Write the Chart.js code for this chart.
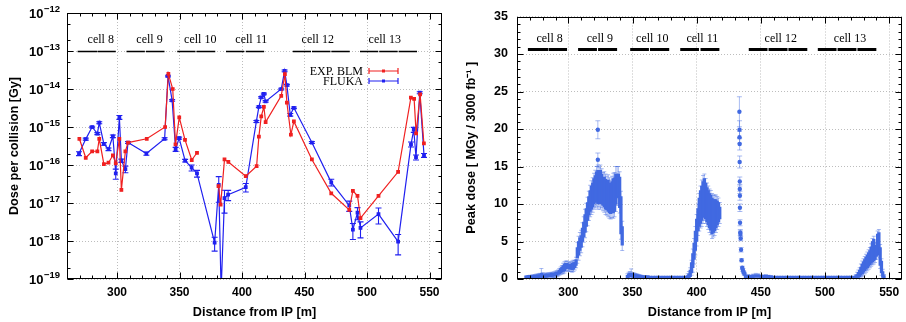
<!DOCTYPE html>
<html>
<head>
<meta charset="utf-8">
<script src="https://cdn.jsdelivr.net/npm/chart.js@4.4.0/dist/chart.umd.min.js"></script>
<style>
  html, body { margin: 0; padding: 0; background: #fff; }
  #wrap { position: relative; width: 906px; height: 322px; }
  #left { position: absolute; left: 0; top: 0; }
  #right { position: absolute; left: 450px; top: 0; }
</style>
</head>
<body>
<div id="wrap">
  <canvas id="left" width="450" height="322"></canvas>
  <canvas id="right" width="456" height="322"></canvas>
</div>
<script>
// ---- data ----

// left panel: dose per collision, EXP. BLM (red) and FLUKA (blue)
const blmX = [269.9, 275.0, 280.1, 284.3, 285.8, 289.5, 293.2, 296.7, 299.0, 301.9,
  303.5, 306.7, 308.8, 323.8, 338.5, 341.1, 344.6, 346.8, 349.8, 354.4,
  359.8, 364.0, 372.0, 381.2, 382.9, 386.0, 389.1, 403.0, 411.7, 413.5,
  415.4, 417.5, 418.9, 431.4, 434.3, 435.9, 439.1, 441.5, 455.9, 471.4,
  485.8, 488.7, 492.4, 494.8, 509.2, 524.9, 535.1, 537.7, 539.3, 542.5, 545.5]
const blmY = [4.9e-16, 1.55e-16, 2.3e-16, 2.3e-16, 4.9e-16, 1.05e-16, 1.15e-16, 1.8e-16, 1.1e-16, 4.9e-16,
  2.2e-17, 2.3e-16, 3.9e-16, 4.9e-16, 1.0e-15, 2.5e-14, 1.0e-14, 3.5e-16, 1.8e-15, 4.6e-16,
  1.35e-16, 2.1e-16, null, 2.8e-17, 9.0e-18, 1.4e-16, 1.2e-16, 5.1e-17, 9.3e-17, 5.6e-16,
  1.9e-15, 3.4e-15, 1.35e-15, 6.6e-15, 2.45e-14, 4.4e-15, 6.3e-16, 1.4e-15, 1.4e-16, 1.8e-17,
  6.6e-18, 2.1e-17, 1.55e-17, 4.0e-18, 1.55e-17, 6.6e-17, 5.9e-15, 5.5e-15, 6.8e-16, 7.2e-15, 3.7e-16]

const flukaX = [269.6, 275.0, 280.1, 284.3, 285.8, 289.5, 293.2, 296.7, 299.0, 301.9,
  303.5, 306.7, 308.8, 323.5, 338.1, 340.8, 344.1, 346.9, 349.7, 354.5,
  359.7, 364.0, 378.1, 381.4, 383.3, 386.0, 388.9, 403.0, 411.5, 413.5,
  415.4, 417.5, 418.9, 431.4, 434.1, 435.9, 438.6, 441.5, 455.9, 471.4,
  485.8, 488.7, 492.4, 494.8, 509.2, 524.9, 535.2, 537.4, 539.2, 542.2, 545.6]
const flukaY = [2.0e-16, 4.8e-16, 1.0e-15, 6.7e-16, 1.3e-15, 3.6e-16, 2.6e-16, 5.7e-16, 6.0e-17, 1.8e-15,
  1.3e-16, 7.8e-17, 3.9e-16, 2.0e-16, 4.9e-16, 2.2e-14, 5.0e-15, 2.6e-16, 5.1e-16, 1.3e-16,
  8.5e-17, 6.0e-17, 9.0e-19, 3.0e-17, 5.0e-20, 1.35e-17, 1.65e-17, 2.6e-17, 1.4e-15, 3.4e-15,
  6.0e-15, 7.4e-15, 4.7e-15, 1.0e-14, 3.0e-14, 1.26e-14, 2.1e-15, 3.2e-15, 3.9e-16, 3.5e-17,
  8.6e-18, 2.0e-18, 5.6e-18, 2.2e-18, 5.1e-18, 9.6e-19, 3.5e-16, 8.5e-16, 1.6e-16, 8.0e-15, 1.8e-16]
// relative error of each FLUKA point
const flukaRelErr = [0.12, 0.06, 0.05, 0.06, 0.06, 0.08, 0.08, 0.08, 0.3, 0.12,
  0.1, 0.2, 0.06, 0.1, 0.06, 0.05, 0.05, 0.12, 0.06, 0.08,
  0.18, 0.2, 0.4, 0.65, 0, 0.6, 0.3, 0.25, 0.06, 0.05,
  0.05, 0.05, 0.05, 0.05, 0.05, 0.05, 0.08, 0.05, 0.06, 0.2,
  0.3, 0.45, 0.35, 0.45, 0.45, 0.55, 0.15, 0.15, 0.15, 0.06, 0.12]

// right panel: peak dose band (low / high edge of the point cloud) and its error
const peakX = [
  267, 268, 269, 270, 271, 272, 273, 274, 275, 276,
  277, 278, 279, 280, 281, 282, 283, 284, 285, 286,
  287, 288, 289, 290, 291, 292, 293, 294, 295, 296,
  297, 298, 299, 300, 301, 302, 303, 304, 305, 306,
  307, 308, 309, 310, 311, 312, 313, 314, 315, 316,
  317, 318, 319, 320, 321, 322, 323, 324, 325, 326,
  327, 328, 329, 330, 331, 332, 333, 334, 335, 336,
  337, 338, 339, 340, 341, 342,
  346, 347, 348, 349, 350, 351, 352, 353, 354, 355, 356, 357,
  358, 360, 362, 364, 366, 368, 370, 372, 374, 376, 378, 380, 382, 384, 386, 388, 390, 392,
  393, 394, 395, 396, 397, 398, 399, 400, 401, 402,
  403, 404, 405, 406, 407, 408, 409, 410, 411, 412,
  413, 414, 415, 416, 417, 418,
  438, 440, 442, 444, 446, 448, 450, 452, 454, 456, 458,
  460, 462, 464, 466, 468, 470, 472, 474, 476, 478, 480, 482, 484, 486, 488, 490,
  492, 494, 496, 498, 500, 502, 504, 506, 508, 510, 512, 514, 516, 518, 520, 522,
  524, 525, 526, 527, 528, 529, 530, 531, 532, 533,
  534, 535, 536, 537, 538, 539, 540, 541, 542, 543,
  544, 545, 546]
const peakLo = [
  0.0, 0.0, 0.05, 0.05, 0.05, 0.1, 0.1, 0.1, 0.1, 0.15,
  0.15, 0.2, 0.25, 0.2, 0.2, 0.2, 0.25, 0.25, 0.3, 0.3,
  0.35, 0.35, 0.4, 0.45, 0.5, 0.6, 0.7, 0.8, 0.9, 1.0,
  1.1, 1.3, 1.4, 1.4, 1.3, 1.3, 1.2, 1.3, 1.5, 1.8,
  2.8, 3.2, 3.8, 4.2, 5.0, 5.6, 6.2, 7.0, 7.8, 8.5,
  9.0, 9.3, 9.6, 10.0, 10.2, 10.4, 10.0, 10.3, 10.0, 10.2,
  9.8, 9.6, 9.3, 9.2, 9.0, 8.8, 8.7, 8.9, 8.8, 9.0,
  10.0, 10.8, 11.0, 9.5, 6.0, 4.5,
  0.1, 0.2, 0.3, 0.3, 0.25, 0.2, 0.2, 0.15, 0.15, 0.1, 0.1, 0.05,
  0.05, 0.05, 0.05, 0.0, 0.0, 0.0, 0.0, 0.0, 0.0, 0.0, 0.0, 0.0, 0.0, 0.0, 0.0, 0.0, 0.0, 0.0,
  0.05, 0.1, 0.3, 0.8, 1.5, 2.6, 3.8, 5.0, 6.4, 7.0,
  7.4, 7.8, 8.2, 8.4, 8.0, 7.6, 7.2, 6.8, 6.5, 6.0,
  6.2, 6.4, 6.8, 7.2, 7.6, 8.0,
  0.1, 0.1, 0.1, 0.15, 0.2, 0.2, 0.1, 0.1, 0.1, 0.1, 0.05,
  0.0, 0.0, 0.0, 0.0, 0.0, 0.0, 0.0, 0.0, 0.0, 0.0, 0.0, 0.0, 0.0, 0.0, 0.0, 0.0,
  0.0, 0.0, 0.0, 0.0, 0.0, 0.0, 0.0, 0.0, 0.0, 0.0, 0.0, 0.0, 0.0, 0.0, 0.0, 0.0,
  0.05, 0.1, 0.2, 0.3, 0.5, 0.7, 0.9, 1.1, 1.3, 1.5,
  1.7, 1.9, 2.1, 2.3, 2.4, 2.6, 3.0, 3.6, 3.2, 1.8,
  0.8, 0.2, 0.05]
const peakHi = [
  0.25, 0.3, 0.3, 0.35, 0.3, 0.4, 0.4, 0.45, 0.5, 0.5,
  0.55, 0.6, 0.75, 0.65, 0.55, 0.55, 0.6, 0.6, 0.6, 0.65,
  0.7, 0.7, 0.75, 0.85, 0.9, 1.0, 1.2, 1.4, 1.6, 1.8,
  2.0, 2.1, 2.1, 2.0, 1.9, 2.0, 2.1, 2.2, 2.2, 2.6,
  4.2, 5.0, 5.5, 5.8, 6.8, 7.6, 8.6, 9.4, 10.2, 11.0,
  11.8, 12.4, 12.8, 13.4, 13.8, 14.3, 14.5, 14.2, 14.5, 14.0,
  13.5, 13.6, 13.3, 13.0, 13.2, 12.8, 12.5, 13.0, 13.4, 13.5,
  14.0, 14.0, 14.0, 13.6, 11.0, 7.0,
  0.5, 0.7, 0.8, 0.75, 0.7, 0.65, 0.6, 0.55, 0.5, 0.45, 0.4, 0.35,
  0.3, 0.3, 0.25, 0.2, 0.15, 0.15, 0.15, 0.15, 0.15, 0.15, 0.15, 0.15, 0.15, 0.15, 0.15, 0.15, 0.15, 0.2,
  0.4, 0.7, 1.2, 2.2, 3.4, 4.8, 6.4, 8.0, 9.4, 10.8,
  11.8, 12.4, 13.0, 13.4, 12.8, 12.2, 11.8, 11.4, 11.2, 10.8,
  10.6, 10.6, 10.6, 10.4, 10.2, 9.6,
  0.5, 0.45, 0.4, 0.5, 0.6, 0.55, 0.4, 0.4, 0.45, 0.35, 0.25,
  0.15, 0.15, 0.15, 0.15, 0.15, 0.15, 0.15, 0.15, 0.15, 0.15, 0.15, 0.15, 0.15, 0.15, 0.15, 0.15,
  0.15, 0.15, 0.2, 0.25, 0.15, 0.15, 0.15, 0.15, 0.15, 0.15, 0.25, 0.15, 0.15, 0.25, 0.15, 0.2,
  0.4, 0.6, 0.9, 1.2, 1.6, 2.0, 2.3, 2.6, 2.9, 3.2,
  3.5, 3.8, 4.3, 5.0, 5.3, 4.5, 4.4, 6.0, 6.2, 4.2,
  2.4, 1.0, 0.4]
const peakErr = [
  0.15, 0.15, 0.15, 0.15, 0.15, 0.15, 0.15, 0.15, 0.15, 0.15,
  0.15, 0.15, 0.65, 0.2, 0.2, 0.2, 0.2, 0.2, 0.2, 0.2,
  0.2, 0.2, 0.2, 0.2, 0.2, 0.2, 0.2, 0.2, 0.2, 0.3,
  0.3, 0.3, 0.3, 0.3, 0.3, 0.3, 0.3, 0.3, 0.3, 0.3,
  0.7, 0.7, 0.7, 0.7, 0.7, 0.7, 0.7, 0.7, 0.7, 0.7,
  0.7, 0.7, 0.7, 0.7, 0.7, 0.7, 0.7, 0.7, 0.7, 0.7,
  0.7, 0.7, 0.7, 0.7, 0.7, 0.7, 0.7, 0.7, 0.7, 0.7,
  1.0, 1.0, 1.0, 0.7, 0.7, 0.7,
  0.2, 0.2, 0.2, 0.6, 0.15, 0.15, 0.15, 0.15, 0.15, 0.15, 0.15, 0.15,
  0.1, 0.1, 0.1, 0.1, 0.1, 0.1, 0.1, 0.1, 0.1, 0.1, 0.1, 0.1, 0.1, 0.1, 0.1, 0.1, 0.1, 0.1,
  0.3, 0.3, 0.3, 0.3, 0.6, 0.6, 0.6, 0.6, 0.6, 0.6,
  0.6, 0.8, 0.8, 0.6, 0.6, 0.6, 0.6, 0.6, 0.6, 0.6,
  0.6, 0.6, 0.6, 0.6, 0.6, 0.6,
  0.15, 0.15, 0.15, 0.15, 0.15, 0.15, 0.15, 0.15, 0.15, 0.15, 0.15,
  0.1, 0.1, 0.1, 0.1, 0.1, 0.1, 0.1, 0.1, 0.1, 0.1, 0.1, 0.1, 0.1, 0.1, 0.1, 0.1,
  0.1, 0.1, 0.1, 0.1, 0.1, 0.1, 0.1, 0.1, 0.1, 0.1, 0.1, 0.1, 0.1, 0.1, 0.1, 0.1,
  0.2, 0.3, 0.3, 0.3, 0.4, 0.4, 0.4, 0.4, 0.4, 0.4,
  0.4, 0.4, 0.4, 0.4, 0.4, 0.4, 0.4, 0.4, 0.4, 0.4,
  0.3, 0.3, 0.2]

// isolated points standing out of the band (spikes at 323 m and 433 m)
const spikeX = [323.0, 323.0, 433.3, 433.4, 433.4, 433.5, 433.5, 433.6, 433.6, 433.7, 433.7,
  433.8, 434.0, 434.1, 434.3, 434.6, 435.0, 435.5, 436.0, 436.6, 437.2]
const spikeY = [19.9, 15.9, 22.3, 19.9, 18.9, 18.0, 15.6, 13.0, 12.0, 11.1, 9.5,
  7.5, 6.2, 6.0, 5.4, 3.9, 2.5, 1.5, 1.2, 0.9, 0.7]
const spikeErr = [1.2, 0.9, 2.0, 1.2, 0.8, 0.8, 0.8, 0.6, 0.6, 0.6, 0.5,
  0.4, 0.4, 0.4, 0.3, 0.3, 0.2, 0.2, 0.2, 0.2, 0.2]

// cell markers (shared by both panels)
const cellNames = ['cell 8', 'cell 9', 'cell 10', 'cell 11', 'cell 12', 'cell 13']
const cellSegStart = [268.5, 284.6, 307.6, 323.2, 348.2, 363.6, 387.2, 403.0, 440.6, 456.0, 471.5, 494.4, 509.8, 525.3]
const cellSegEnd = [284.2, 299.0, 322.3, 338.0, 362.8, 378.6, 401.8, 417.7, 455.2, 470.8, 486.2, 509.0, 524.5, 540.0]
const leftCellLabelX = [287, 326, 366.6, 407.4, 460.6, 514.2]
const rightCellLabelX = [285.4, 324.6, 365.4, 404.4, 465.5, 519.5]

// axes
const distTicks = [300, 350, 400, 450, 500, 550]
const doseDecades = [1e-19, 1e-18, 1e-17, 1e-16, 1e-15, 1e-14, 1e-13, 1e-12]
const doseExponents = ['\u221219', '\u221218', '\u221217', '\u221216', '\u221215', '\u221214', '\u221213', '\u221212']
const peakTicks = [0, 5, 10, 15, 20, 25, 30, 35]

// ---- style ----
const RED = '#f02020'
const BLUE = '#2020f0'
const ROYAL = '#4169e1'
const ROYAL_ERR = 'rgba(65,105,225,0.45)'
const SANS = '"Liberation Sans", Arial, sans-serif'
const SERIF = '"Liberation Serif", "Times New Roman", serif'

Chart.defaults.font.family = SANS
Chart.defaults.color = '#000'

// minor tick helpers (decoration only)
const distMinor = []
for (let v = 270; v < 560; v += 10) if (v % 50 !== 0) distMinor.push(v)
const doseMinor = []
doseDecades.slice(0, -1).forEach(d => { doseMinor.push(2 * d, 5 * d) })
const peakMinor = []
for (let v = 1; v < 35; v++) if (v % 5 !== 0) peakMinor.push(v)

// box around the plot with inward ticks on all sides
const framePlugin = {
  id: 'frame',
  afterDraw(chart, args, o) {
    const { ctx, chartArea: a } = chart
    const xs = chart.scales.x, ys = chart.scales.y
    const L = Math.round(a.left) + 0.5, R = Math.round(a.right) - 0.5
    const T = Math.round(a.top) + 0.5, B = Math.round(a.bottom) - 0.5
    ctx.save()
    ctx.strokeStyle = '#000'
    ctx.lineWidth = 1
    ctx.strokeRect(L, T, R - L, B - T)
    ctx.beginPath()
    const xMark = (list, len) => list.forEach(v => {
      const p = Math.round(xs.getPixelForValue(v)) + 0.5
      ctx.moveTo(p, B); ctx.lineTo(p, B - len)
      ctx.moveTo(p, T); ctx.lineTo(p, T + len)
    })
    const yMark = (list, len) => list.forEach(v => {
      const p = Math.round(ys.getPixelForValue(v)) + 0.5
      ctx.moveTo(L, p); ctx.lineTo(L + len, p)
      ctx.moveTo(R, p); ctx.lineTo(R - len, p)
    })
    xMark(o.xMajor, 6); xMark(o.xMinor, 3)
    yMark(o.yMajor, 6); yMark(o.yMinor, 3)
    ctx.stroke()
    ctx.restore()
  }
}

// vertical error bars from dataset.errLo / dataset.errHi
const errorBarPlugin = {
  id: 'errorBars',
  beforeDatasetsDraw(chart) {
    const { ctx, chartArea: a } = chart
    const xs = chart.scales.x, ys = chart.scales.y
    ctx.save()
    ctx.beginPath()
    ctx.rect(a.left, a.top, a.right - a.left, a.bottom - a.top)
    ctx.clip()
    chart.data.datasets.forEach(ds => {
      if (!ds.errLo) return
      ctx.strokeStyle = ds.errColor
      ctx.lineWidth = ds.errWidth || 1
      ctx.beginPath()
      ds.data.forEach((d, i) => {
        const lo = ds.errLo[i], hi = ds.errHi[i]
        if (lo == null || hi == null || hi <= lo) return
        const px = xs.getPixelForValue(d.x)
        const p1 = ys.getPixelForValue(lo), p2 = ys.getPixelForValue(hi)
        ctx.moveTo(px, p1); ctx.lineTo(px, p2)
        ctx.moveTo(px - ds.cap, p1); ctx.lineTo(px + ds.cap, p1)
        ctx.moveTo(px - ds.cap, p2); ctx.lineTo(px + ds.cap, p2)
      })
      ctx.stroke()
    })
    ctx.restore()
  }
}

// black cell bars with serif labels
const cellPlugin = {
  id: 'cells',
  afterDatasetsDraw(chart, args, o) {
    const { ctx } = chart
    const xs = chart.scales.x, ys = chart.scales.y
    const py = Math.round(ys.getPixelForValue(o.barValue)) + 0.5
    ctx.save()
    ctx.strokeStyle = '#000'
    ctx.lineWidth = o.lineWidth
    ctx.beginPath()
    cellSegStart.forEach((s, i) => {
      ctx.moveTo(xs.getPixelForValue(s), py)
      ctx.lineTo(xs.getPixelForValue(cellSegEnd[i]), py)
    })
    ctx.stroke()
    ctx.fillStyle = '#000'
    ctx.font = `12px ${SERIF}`
    ctx.textAlign = 'center'
    ctx.textBaseline = 'middle'
    const ly = ys.getPixelForValue(o.labelValue)
    cellNames.forEach((n, i) => ctx.fillText(n, xs.getPixelForValue(o.labelX[i]), ly))
    ctx.restore()
  }
}

// 10^n labels for the log axis
const decadeLabelPlugin = {
  id: 'decadeLabels',
  afterDraw(chart) {
    const { ctx, chartArea: a } = chart
    const ys = chart.scales.y
    ctx.save()
    ctx.fillStyle = '#000'
    ctx.textAlign = 'right'
    ctx.textBaseline = 'alphabetic'
    const right = a.left - 7
    doseDecades.forEach((d, i) => {
      const py = ys.getPixelForValue(d)
      ctx.font = `bold 9.5px ${SANS}`
      const ew = ctx.measureText(doseExponents[i]).width
      ctx.fillText(doseExponents[i], right, py - 1.5)
      ctx.font = `bold 13px ${SANS}`
      ctx.fillText('10', right - ew - 0.5, py + 4.5)
    })
    ctx.restore()
  }
}

// key in the upper right of the left panel
const keyPlugin = {
  id: 'key',
  afterDatasetsDraw(chart) {
    const { ctx } = chart
    const rows = [['EXP. BLM', RED, 71], ['FLUKA', BLUE, 81]]
    ctx.save()
    ctx.font = `12px ${SERIF}`
    ctx.textAlign = 'right'
    ctx.textBaseline = 'middle'
    rows.forEach(([t, c, y]) => {
      ctx.fillStyle = '#000'
      ctx.fillText(t, 363, y + 0.5)
      ctx.strokeStyle = c
      ctx.fillStyle = c
      ctx.lineWidth = 1.2
      ctx.beginPath()
      ctx.moveTo(369, y); ctx.lineTo(398, y)
      ctx.moveTo(369, y - 3); ctx.lineTo(369, y + 3)
      ctx.moveTo(398, y - 3); ctx.lineTo(398, y + 3)
      ctx.stroke()
      ctx.fillRect(382, y - 1.5, 3, 3)
    })
    ctx.restore()
  }
}

const axisFont = { family: SANS, size: 12, weight: 'bold' }
const titleFont = { family: SANS, size: 12.7, weight: 'bold' }
const gridStyle = { color: '#bdbdbd', drawTicks: false, lineWidth: 1 }
const dotted = { display: false, dash: [1, 2] }

// ---- left panel ----
new Chart(document.getElementById('left'), {
  type: 'line',
  data: {
    datasets: [
      {
        label: 'EXP. BLM',
        data: blmX.map((x, i) => ({ x, y: blmY[i] })),
        borderColor: RED,
        backgroundColor: RED,
        borderWidth: 1.2,
        pointStyle: 'rect',
        pointRadius: 1.8,
        spanGaps: false,
      },
      {
        label: 'FLUKA',
        data: flukaX.map((x, i) => ({ x, y: flukaY[i] })),
        borderColor: BLUE,
        backgroundColor: BLUE,
        borderWidth: 1.2,
        pointStyle: 'rect',
        pointRadius: 1.8,
        errLo: flukaY.map((v, i) => v * (1 - flukaRelErr[i])),
        errHi: flukaY.map((v, i) => v * (1 + flukaRelErr[i])),
        errColor: BLUE,
        errWidth: 1.1,
        cap: 3,
      }
    ]
  },
  options: {
    responsive: false,
    animation: false,
    layout: { padding: { top: 13, right: 8, left: 0, bottom: 0 } },
    plugins: {
      legend: { display: false },
      tooltip: { enabled: false },
      frame: { xMajor: distTicks, xMinor: distMinor, yMajor: doseDecades, yMinor: doseMinor },
      cells: { barValue: 1e-13, labelValue: 2e-13, labelX: leftCellLabelX, lineWidth: 1.6 },
    },
    scales: {
      x: {
        type: 'linear', min: 260, max: 560,
        afterBuildTicks: s => { s.ticks = distTicks.map(v => ({ value: v })) },
        afterFit: s => { s.height = 43 },
        grid: gridStyle, border: dotted,
        ticks: { font: axisFont, padding: 6, maxRotation: 0 },
        title: { display: true, text: 'Distance from IP [m]', font: titleFont, padding: { top: 0, bottom: 2 } },
      },
      y: {
        type: 'logarithmic', min: 1e-19, max: 1e-12,
        afterBuildTicks: s => { s.ticks = doseDecades.map(v => ({ value: v })) },
        afterFit: s => { s.width = 67 },
        grid: gridStyle, border: dotted,
        ticks: { display: false },
        title: { display: true, text: 'Dose per collision [Gy]', font: titleFont, padding: { top: 7, bottom: 0 } },
      }
    }
  },
  plugins: [errorBarPlugin, cellPlugin, keyPlugin, framePlugin, decadeLabelPlugin]
})

// ---- right panel ----
new Chart(document.getElementById('right'), {
  type: 'bar',
  data: {
    datasets: [
      {
        type: 'line',
        label: 'spikes',
        data: spikeX.map((x, i) => ({ x, y: spikeY[i] })),
        showLine: false,
        pointStyle: 'circle',
        pointRadius: 2.2,
        borderWidth: 0,
        backgroundColor: ROYAL,
        errLo: spikeY.map((v, i) => v - spikeErr[i]),
        errHi: spikeY.map((v, i) => v + spikeErr[i]),
        errColor: ROYAL_ERR,
        cap: 2.5,
      },
      {
        label: 'Peak dose',
        data: peakX.map((x, i) => ({ x, y: [peakLo[i], peakHi[i]] })),
        backgroundColor: ROYAL,
        borderWidth: 0,
        barThickness: 2.6,
        minBarLength: 3,
        grouped: false,
        errLo: peakLo.map((v, i) => v - peakErr[i]),
        errHi: peakHi.map((v, i) => v + peakErr[i]),
        errColor: ROYAL_ERR,
        cap: 2,
      }
    ]
  },
  options: {
    responsive: false,
    animation: false,
    layout: { padding: { top: 13, right: 4, left: 0, bottom: 0 } },
    plugins: {
      legend: { display: false },
      tooltip: { enabled: false },
      frame: { xMajor: distTicks, xMinor: distMinor, yMajor: peakTicks, yMinor: peakMinor },
      cells: { barValue: 30.67, labelValue: 32.0, labelX: rightCellLabelX, lineWidth: 3.2 },
    },
    scales: {
      x: {
        type: 'linear', min: 260, max: 560, offset: false,
        afterBuildTicks: s => { s.ticks = distTicks.map(v => ({ value: v })) },
        afterFit: s => { s.height = 43 },
        grid: { ...gridStyle, offset: false }, border: dotted,
        ticks: { font: axisFont, padding: 6, maxRotation: 0 },
        title: { display: true, text: 'Distance from IP [m]', font: titleFont, padding: { top: 0, bottom: 2 } },
      },
      y: {
        type: 'linear', min: 0, max: 35,
        afterBuildTicks: s => { s.ticks = peakTicks.map(v => ({ value: v })) },
        afterFit: s => { s.width = 67 },
        grid: gridStyle, border: dotted,
        ticks: { font: { ...axisFont, size: 12.5 }, padding: 9 },
        title: { display: true, text: 'Peak dose [ MGy / 3000 fb\u207B\u00B9 ]', font: titleFont, padding: { top: 14, bottom: 0 } },
      }
    }
  },
  plugins: [errorBarPlugin, cellPlugin, framePlugin]
})
</script>
</body>
</html>
